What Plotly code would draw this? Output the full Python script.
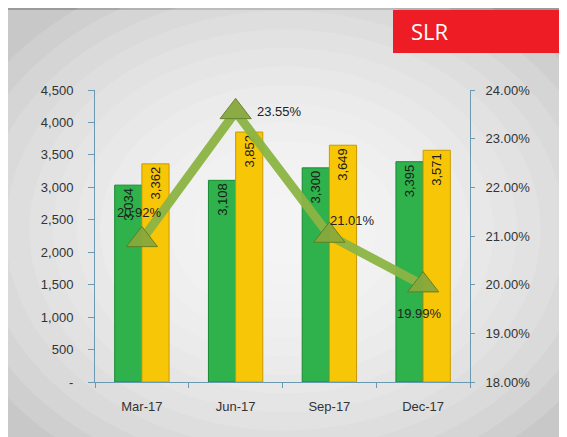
import plotly.graph_objects as go

categories = ["Mar-17", "Jun-17", "Sep-17", "Dec-17"]
green_vals = [3034, 3108, 3300, 3395]
yellow_vals = [3362, 3852, 3649, 3571]
slr_vals = [0.2092, 0.2355, 0.2101, 0.1999]
left_ticks = [0, 500, 1000, 1500, 2000, 2500, 3000, 3500, 4000, 4500]
left_tick_text = ["-", "500", "1,000", "1,500", "2,000", "2,500", "3,000", "3,500", "4,000", "4,500"]
right_ticks = [0.18, 0.19, 0.20, 0.21, 0.22, 0.23, 0.24]

# label offsets (pixels) for the SLR point labels
slr_label_shift = [(-2, 27), (44, 0), (23, 15), (-4, -28)]

# page is offset by the 8px body margin; work in page coordinates
OFF = 8
W, H = 567 - OFF, 437 - OFF
L, R, T, B = 95 - OFF, 567 - 470, 90 - OFF, 437 - 382
pw, ph = W - L - R, H - T - B

def px(x):
    return (x - OFF - L) / pw

def py(y):
    return (H - B - (y - OFF)) / ph

fig = go.Figure()

lab_font = dict(size=13, color="#1a1a1a", family="Liberation Sans")
fig.add_trace(go.Bar(
    x=categories, y=green_vals, name="A",
    marker=dict(color="#2fb14c", line=dict(color="#188a34", width=1)),
    texttemplate="%{y:,.0f}", textposition="inside", insidetextanchor="end",
    textangle=-90, textfont=lab_font, cliponaxis=False,
))
fig.add_trace(go.Bar(
    x=categories, y=yellow_vals, name="B",
    marker=dict(color="#f7c606", line=dict(color="#c99a00", width=1)),
    texttemplate="%{y:,.0f}", textposition="inside", insidetextanchor="end",
    textangle=-90, textfont=lab_font, cliponaxis=False,
))
fig.add_trace(go.Scatter(
    x=categories, y=slr_vals, yaxis="y2", mode="lines+markers",
    line=dict(color="#8cb544", width=9),
    marker=dict(symbol="triangle-up", size=27, color="#88a83c",
                line=dict(color="#5f7d25", width=1)),
    opacity=0.95, cliponaxis=False,
))

annotations = [dict(text="SLR", xref="paper", yref="paper", x=px(409), y=py(31),
                    xanchor="left", yanchor="middle", showarrow=False,
                    font=dict(family="Open Sans", size=22, color="white"))]
for cat, v, (dx, dy) in zip(categories, slr_vals, slr_label_shift):
    annotations.append(dict(text=f"{v*100:.2f}%", x=cat, y=v, xref="x", yref="y2",
                            xshift=dx, yshift=dy, showarrow=False,
                            xanchor="center", yanchor="middle",
                            font=dict(size=13, color="#222222", family="Liberation Sans")))

shapes = []
# frame border
shapes.append(dict(type="rect", xref="paper", yref="paper",
                   x0=px(7), x1=px(580), y0=py(9), y1=py(450),
                   fillcolor="rgba(0,0,0,0)", line=dict(color="#9a9a9a", width=2), layer="below"))
# radial glow approximation
cx, cy = 285, 230
n = 14
for i in range(n):
    f = 1 - i / n
    rx, ry = 330 * f + 20, 260 * f + 15
    shapes.append(dict(type="circle", xref="paper", yref="paper",
                       x0=px(cx - rx), x1=px(cx + rx), y0=py(cy + ry), y1=py(cy - ry),
                       fillcolor="white", opacity=0.13, line=dict(width=0), layer="below"))
# red title box
shapes.append(dict(type="rect", xref="paper", yref="paper",
                   x0=px(393), x1=px(600), y0=py(53), y1=py(10),
                   fillcolor="#ee1c25", line=dict(width=0), layer="above"))

axis_col = "#6a9ab2"
tick_font = dict(size=13, color="#333333", family="Liberation Sans")
fig.update_layout(
    width=W, height=H,
    margin=dict(l=L, r=R, t=T, b=B),
    paper_bgcolor="#c8c8c8", plot_bgcolor="rgba(0,0,0,0)",
    barmode="group", bargap=0.42, bargroupgap=0,
    showlegend=False,
    shapes=shapes,
    annotations=annotations,
    font=dict(family="Liberation Sans", size=12, color="#333333"),
    xaxis=dict(type="category", range=[-0.5, 3.5], tickson="boundaries",
               ticks="outside", ticklen=5, tickcolor=axis_col,
               showline=True, linecolor=axis_col, linewidth=1, showgrid=False,
               tickfont=tick_font, ticklabelstandoff=12),
    yaxis=dict(range=[0, 4500], tickvals=left_ticks, ticktext=left_tick_text,
               ticks="outside", ticklen=6, tickcolor=axis_col,
               showline=True, linecolor=axis_col, linewidth=1, showgrid=False,
               zeroline=False, tickfont=tick_font, ticklabelstandoff=12),
    yaxis2=dict(range=[0.18, 0.24], tickvals=right_ticks, tickformat=".2%",
                overlaying="y", side="right",
                ticks="outside", ticklen=4, tickcolor=axis_col,
                showline=True, linecolor=axis_col, linewidth=1, showgrid=False,
                zeroline=False, tickfont=tick_font, ticklabelstandoff=8),
)

fig.write_html("out.html")
